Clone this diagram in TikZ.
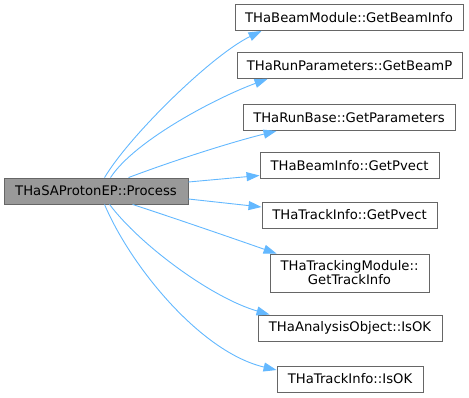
\documentclass[tikz,border=0pt]{standalone}
\usepackage{fontspec}
\setmainfont{DejaVu Sans}
\usetikzlibrary{arrows.meta}

\definecolor{edgeblue}{HTML}{63B8FF}
\definecolor{boxline}{HTML}{666666}
\definecolor{procfill}{HTML}{999999}

\tikzset{
  fn/.style={draw=boxline, line width=0.9pt, minimum height=26pt, inner xsep=4pt,
    font=\fontsize{13.2}{14}\selectfont, align=center, text=black},
  call/.style={draw=edgeblue, line width=0.9pt, -{Triangle[length=13pt,width=9pt]}}
}

\begin{document}
\begin{tikzpicture}[x=1pt, y=-1pt]
				\useasboundingbox (0,0) rectangle (469,397);
				\node[fn, fill=procfill, minimum width=184pt] (proc) at (96,191) {THaSAProtonEP::Process};
				\node[fn, minimum width=228pt] (bminfo) at (349,17.5) {THaBeamModule::GetBeamInfo};
				\node[fn, minimum width=225pt] (beamp) at (349.5,65.5) {THaRunParameters::GetBeamP};
				\node[fn, minimum width=212pt] (params) at (349,117.5) {THaRunBase::GetParameters};
				\node[fn, minimum width=179pt] (bpvect) at (349.5,165.5) {THaBeamInfo::GetPvect};
				\node[fn, minimum width=175pt] (tpvect) at (349.5,215) {THaTrackInfo::GetPvect};
				\node[fn, minimum width=159pt, minimum height=38pt] (trkinfo) at (349.5,273) {THaTrackingModule::\\GetTrackInfo};
				\node[fn, minimum width=184pt] (aok) at (350,328) {THaAnalysisObject::IsOK};
				\node[fn, minimum width=146pt] (tok) at (350,379) {THaTrackInfo::IsOK};
				% calls out of Process
				\draw[call] ([xshift=101pt]proc.north west) .. controls (130,135) and (212,55) .. ([xshift=27pt]bminfo.south west);
				\draw[call] ([xshift=107pt]proc.north west) .. controls (135,140) and (218,97) .. ([xshift=31pt]beamp.south west);
				\draw[call] ([xshift=125pt]proc.north west) .. controls (175,160) and (232,142) .. ([xshift=34pt]params.south west);
				\draw[call] ([yshift=9pt]proc.east) -- ([yshift=-10pt]bpvect.west);
				\draw[call] ([yshift=-8pt]proc.east) -- ([yshift=8pt]tpvect.west);
				\draw[call] ([xshift=129pt]proc.south west) .. controls (180,220) and (232,238) .. ([xshift=7pt]trkinfo.north west);
				\draw[call] ([xshift=106pt]proc.south west) .. controls (140,245) and (212,298) .. ([xshift=12pt]aok.north west);
				\draw[call] ([xshift=101pt]proc.south west) .. controls (130,265) and (200,352) .. ([yshift=9pt]tok.west);
		    \end{tikzpicture}
\end{document}
